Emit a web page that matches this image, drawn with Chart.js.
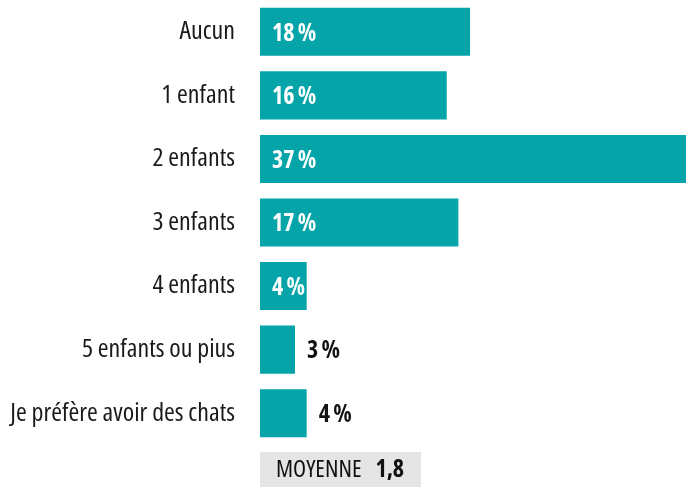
<!DOCTYPE html>
<html>
<head>
<meta charset="utf-8">
<script src="https://cdn.jsdelivr.net/npm/chart.js@4/dist/chart.umd.min.js"></script>
<style>
html,body{margin:0;padding:0;background:#fff;}
#wrap{position:relative;width:686px;height:487px;}
</style>
</head>
<body>
<div id="wrap"><canvas id="c" width="686" height="487"></canvas></div>
<script>
const categories = ["Aucun", "1 enfant", "2 enfants", "3 enfants", "4 enfants", "5 enfants ou pius", "Je préfère avoir des chats"];
const values = [18, 16, 37, 17, 4, 3, 4];
const insideLabel = [true, true, true, true, true, false, false];
const averageLabel = "MOYENNE";
const averageValue = "1,8";

const FONT = "'Open Sans', 'Roboto Condensed', sans-serif";
const TEAL = "#05a4a8";

const labelsPlugin = {
  id: 'valueLabels',
  afterDatasetsDraw(chart) {
    const ctx = chart.ctx;
    const meta = chart.getDatasetMeta(0);
    ctx.save();
    ctx.font = "bold condensed 24px " + FONT;
    if ('wordSpacing' in ctx) ctx.wordSpacing = '-1px';
    ctx.textBaseline = 'middle';
    ctx.textAlign = 'left';
    meta.data.forEach((bar, i) => {
      const txt = values[i] + " %";
      if (insideLabel[i]) {
        ctx.fillStyle = '#ffffff';
        ctx.fillText(txt, bar.base + 12, bar.y + 2);
      } else {
        ctx.fillStyle = '#111111';
        ctx.fillText(txt, bar.x + 12, bar.y + 2);
      }
    });
    if ('wordSpacing' in ctx) ctx.wordSpacing = '0px';
    // average box
    const left = chart.chartArea.left;
    const top = chart.chartArea.bottom + 7;
    ctx.fillStyle = '#e5e5e5';
    ctx.fillRect(left, top, 161, chart.height - top);
    const cy = top + (chart.height - top) / 2 + 1;
    ctx.fillStyle = '#111111';
    ctx.font = "normal condensed 24px " + FONT;
    ctx.fillText(averageLabel, left + 16, cy);
    const w = ctx.measureText(averageLabel).width;
    ctx.font = "bold condensed 24px " + FONT;
    ctx.fillText(averageValue, left + 16 + w + 14, cy);
    ctx.restore();
  }
};

new Chart(document.getElementById('c'), {
  type: 'bar',
  data: {
    labels: categories,
    datasets: [{
      data: values,
      backgroundColor: TEAL,
      borderWidth: 0,
      categoryPercentage: 1,
      barPercentage: 0.756
    }]
  },
  options: {
    indexAxis: 'y',
    responsive: false,
    animation: false,
    devicePixelRatio: 1,
    layout: { padding: { top: 0, right: 0, bottom: 42, left: 0 } },
    plugins: { legend: { display: false }, tooltip: { enabled: false } },
    scales: {
      x: { display: false, min: 0, max: 36.5 },
      y: {
        grid: { display: false, drawTicks: false },
        border: { display: false },
        afterFit(scale) {
          scale.width = 260;
          scale.paddingTop = 0;
          scale.paddingBottom = 0;
        },
        ticks: {
          padding: 25,
          color: '#1a1a1a',
          font: { family: FONT, size: 26, weight: 'normal condensed' }
        }
      }
    }
  },
  plugins: [labelsPlugin]
});
</script>
</body>
</html>
